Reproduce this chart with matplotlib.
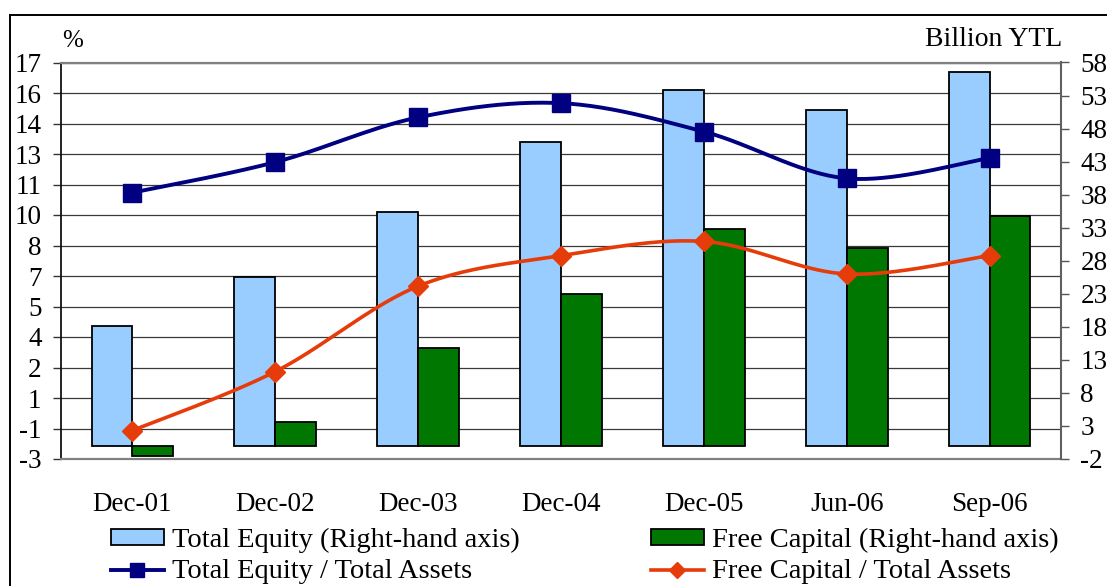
import numpy as np
import matplotlib
matplotlib.use("Agg")
import matplotlib.pyplot as plt
from matplotlib.lines import Line2D
from matplotlib.patches import Patch

plt.rcParams['font.family'] = ['Liberation Serif', 'DejaVu Serif']

# ---- data ----
categories = ["Dec-01", "Dec-02", "Dec-03", "Dec-04", "Dec-05", "Jun-06", "Sep-06"]
total_equity = [18.2, 25.6, 35.4, 45.9, 53.8, 50.8, 56.5]          # billion YTL
free_capital = [-1.6, 3.6, 14.8, 22.9, 32.8, 30.0, 34.8]           # billion YTL
equity_to_assets = [10.6, 12.1, 14.3, 15.0, 13.6, 11.3, 12.3]      # %
free_capital_to_assets = [-1.1, 1.8, 6.0, 7.5, 8.2, 6.6, 7.5]      # %

left_ticks = np.arange(-2.5, 17.01, 1.5)
left_labels = ["-3", "-1", "1", "2", "4", "5", "7", "8", "10", "11", "13", "14", "16", "17"]
right_ticks = np.arange(-2, 58.01, 5)
right_labels = ["-2", "3", "8", "13", "18", "23", "28", "33", "38", "43", "48", "53", "58"]

label_te = "Total Equity (Right-hand axis)"
label_fc = "Free Capital (Right-hand axis)"
label_te_ratio = "Total Equity / Total Assets"
label_fc_ratio = "Free Capital / Total Assets"

C_TE = "#99CCFF"
C_FC = "#007700"
C_NAVY = "#000080"
C_ORANGE = "#E63C0A"
FS = 19.5
FS_LEG = 20.5


def smooth_curve(xs, ys, n=40):
    """Cubic Bezier smoothing through every point (Catmull-Rom control points)."""
    pts = np.column_stack([xs, ys]).astype(float)
    P = np.vstack([pts[0], pts, pts[-1]])
    t = np.linspace(0, 1, n)[:, None]
    out = []
    for i in range(len(pts) - 1):
        p0, p1, p2, p3 = P[i], P[i + 1], P[i + 2], P[i + 3]
        c1 = p1 + (p2 - p0) / 6.0
        c2 = p2 - (p3 - p1) / 6.0
        seg = (1 - t) ** 3 * p1 + 3 * (1 - t) ** 2 * t * c1 + 3 * (1 - t) * t ** 2 * c2 + t ** 3 * p2
        out.append(seg if i == 0 else seg[1:])
    c = np.vstack(out)
    return c[:, 0], c[:, 1]


W, H = 1107, 586
fig = plt.figure(figsize=(W / 100, H / 100), dpi=100)

x = np.arange(len(categories))
ax = fig.add_axes([61 / W, (H - 459) / H, 1000 / W, 396.5 / H])
ax.set_xlim(-0.5, len(categories) - 0.5)
ax.set_ylim(left_ticks[0], left_ticks[-1])

# gridlines follow the percentage axis
for v in left_ticks[1:]:
    ax.axhline(v, color="#3a3a3a", lw=0.9, zorder=0)
ax.set_yticks(left_ticks)
ax.set_yticklabels(left_labels)
ax.tick_params(axis="y", direction="out", length=6, width=1.0, color="#333333",
               labelsize=FS, pad=8)
ax.set_xticks(x)
ax.set_xticklabels(categories)
ax.tick_params(axis="x", length=0, labelsize=FS, pad=24)
ax.spines["left"].set_color("#111111")
ax.spines["left"].set_linewidth(1.3)
for s in ("top", "bottom"):
    ax.spines[s].set_color("#808080")
    ax.spines[s].set_linewidth(1.6)
ax.spines["right"].set_visible(False)

# bars on the billion YTL axis
axb = ax.twinx()
axb.set_ylim(right_ticks[0], right_ticks[-1])
axb.patch.set_visible(False)
bw = 1 / 3.5
axb.bar(x - bw / 2, total_equity, width=bw, color=C_TE, edgecolor="black", linewidth=1.3, zorder=2)
axb.bar(x + bw / 2, free_capital, width=bw, color=C_FC, edgecolor="black", linewidth=1.3, zorder=2)
axb.set_yticks(right_ticks)
axb.set_yticklabels(right_labels)
axb.tick_params(axis="y", direction="out", length=6, width=1.0, color="#555555",
                labelsize=FS, pad=8)
for s in ("left", "top", "bottom"):
    axb.spines[s].set_visible(False)
axb.spines["right"].set_color("#606060")
axb.spines["right"].set_linewidth(1.5)

# ratio lines on the percentage scale
axl = ax.twinx()
axl.set_ylim(left_ticks[0], left_ticks[-1])
axl.patch.set_visible(False)
axl.set_yticks([])
for s in axl.spines.values():
    s.set_visible(False)

sx, sy = smooth_curve(x, equity_to_assets)
axl.plot(sx, sy, color=C_NAVY, lw=2.8, solid_capstyle="butt", zorder=3)
axl.plot(x, equity_to_assets, ls="none", marker="s", ms=13.5, color=C_NAVY, zorder=4)
sx, sy = smooth_curve(x, free_capital_to_assets)
axl.plot(sx, sy, color=C_ORANGE, lw=2.6, solid_capstyle="butt", zorder=3)
axl.plot(x, free_capital_to_assets, ls="none", marker="D", ms=10.5, color=C_ORANGE, zorder=4)

# axis unit captions
fig.text(62 / W, 1 - 41 / H, "%", fontsize=FS - 1.5, ha="left", va="center")
fig.text(1062 / W, 1 - 40 / H, "Billion YTL", fontsize=FS + 0.5, ha="right", va="center")

# outer chart frame
fig.add_artist(Line2D([10 / W, 1.0], [1 - 15 / H, 1 - 15 / H], color="black", lw=1.4))
fig.add_artist(Line2D([10 / W, 10 / W], [0, 1 - 15 / H], color="black", lw=1.4))

# legend, two columns
h_te = Patch(facecolor=C_TE, edgecolor="black", linewidth=1.3)
h_fc = Patch(facecolor=C_FC, edgecolor="black", linewidth=1.3)
h_te_r = Line2D([], [], color=C_NAVY, lw=2.8, marker="s", ms=10)
h_fc_r = Line2D([], [], color=C_ORANGE, lw=2.6, marker="D", ms=8)
common = dict(loc="upper left", frameon=False, fontsize=FS_LEG, borderpad=0, borderaxespad=0,
              handlelength=1.85, handleheight=0.45, handletextpad=0.28, labelspacing=0.22)
fig.legend([h_te, h_te_r], [label_te, label_te_ratio], bbox_to_anchor=(111 / W, 1 - 528 / H), **common)
fig.legend([h_fc, h_fc_r], [label_fc, label_fc_ratio], bbox_to_anchor=(651 / W, 1 - 528 / H), **common)

fig.savefig("out.png", dpi=100)
